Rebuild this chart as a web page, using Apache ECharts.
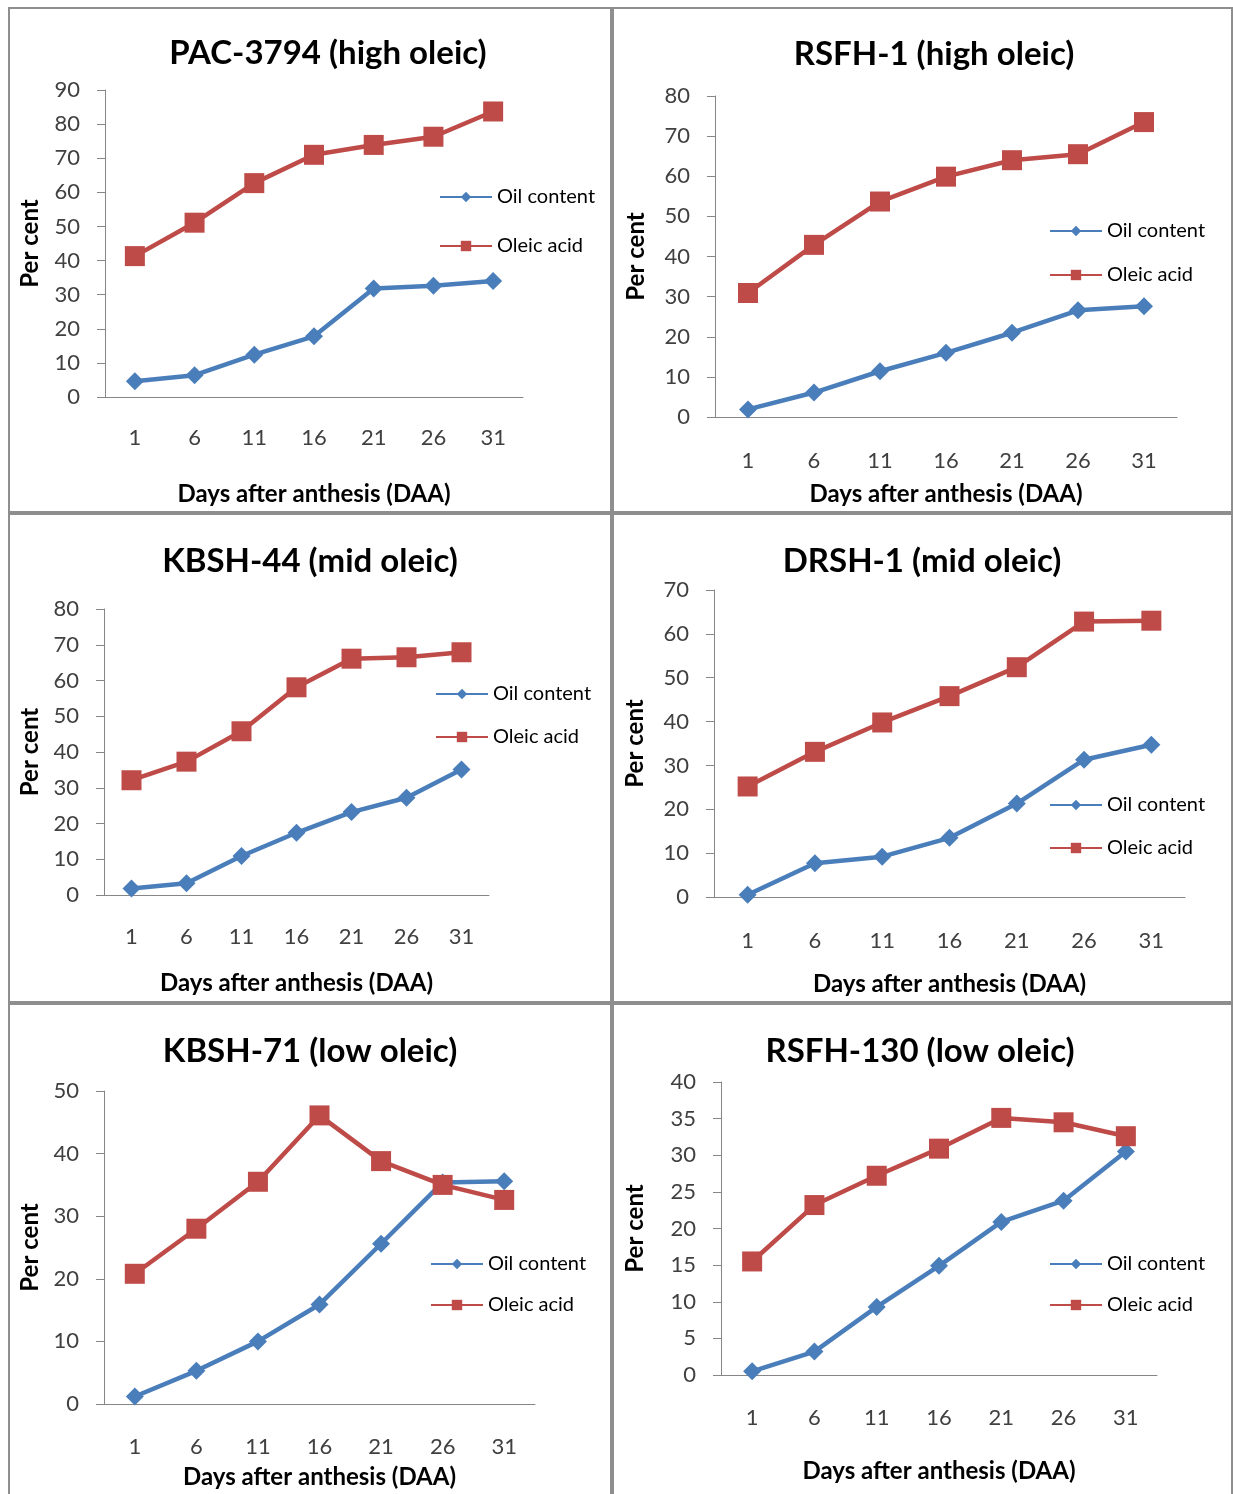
<!DOCTYPE html>
<html>
<head>
<meta charset="utf-8">
<title>Oil content and oleic acid</title>
<script src="https://cdn.jsdelivr.net/npm/echarts@6/dist/echarts.min.js"></script>
<style>
  body { margin: 0; background: #fff; }
  .panel { position: absolute; box-sizing: border-box; border: 2px solid #8e8e8e; overflow: hidden; background: #fff; }
  .chart { position: absolute; left: 0; top: 0; right: 0; bottom: 0; }
</style>
</head>
<body>
<div class="panel" style="left:8px;top:7px;width:604px;height:506px"><div id="c1" class="chart"></div></div>
<div class="panel" style="left:612px;top:7px;width:621px;height:506px"><div id="c2" class="chart"></div></div>
<div class="panel" style="left:8px;top:513px;width:604px;height:490px"><div id="c3" class="chart"></div></div>
<div class="panel" style="left:612px;top:513px;width:621px;height:490px"><div id="c4" class="chart"></div></div>
<div class="panel" style="left:8px;top:1003px;width:604px;height:493px"><div id="c5" class="chart"></div></div>
<div class="panel" style="left:612px;top:1003px;width:621px;height:493px"><div id="c6" class="chart"></div></div>

<script>
  // days after anthesis
  var days = ['1', '6', '11', '16', '21', '26', '31'];

  var pacOil = [4.6, 6.4, 12.4, 17.8, 31.8, 32.6, 34.0];
  var pacOleic = [41.3, 51.1, 62.7, 71.0, 73.9, 76.3, 83.7];

  var rsfh1Oil = [1.9, 6.1, 11.4, 16.0, 21.0, 26.6, 27.6];
  var rsfh1Oleic = [30.9, 42.9, 53.7, 59.9, 64.0, 65.5, 73.5];

  var kbsh44Oil = [1.8, 3.3, 10.9, 17.4, 23.2, 27.2, 35.1];
  var kbsh44Oleic = [32.1, 37.3, 45.8, 58.1, 66.1, 66.5, 67.9];

  var drsh1Oil = [0.5, 7.7, 9.2, 13.5, 21.3, 31.3, 34.7];
  var drsh1Oleic = [25.2, 33.1, 39.8, 45.8, 52.4, 62.8, 63.0];

  var kbsh71Oil = [1.2, 5.3, 10.0, 15.9, 25.6, 35.4, 35.6];
  var kbsh71Oleic = [20.8, 28.0, 35.5, 46.1, 38.8, 35.0, 32.6];

  var rsfh130Oil = [0.5, 3.2, 9.3, 14.9, 20.9, 23.8, 30.5];
  var rsfh130Oleic = [15.5, 23.2, 27.2, 30.9, 35.1, 34.5, 32.6];

  var FONT = 'Lato, "Open Sans", sans-serif';
  var BLUE = '#4a7ebb';
  var RED = '#be4b48';
  var AXIS = '#868686';

  var panels = [
    { id: 'c1', title: 'PAC-3794 (high oleic)', oil: pacOil, oleic: pacOleic, max: 90, step: 10,
      tx: 318, ty: 43, grid: [95, 81, 418, 311], lx: 429, ly: 188, lgap: 49, lab: 30, xgap: 85, ygap: 63 },
    { id: 'c2', title: 'RSFH-1 (high oleic)', oil: rsfh1Oil, oleic: rsfh1Oleic, max: 80, step: 10,
      tx: 320, ty: 44, grid: [101, 87, 462, 322], lx: 435, ly: 222, lgap: 44, lab: 33, xgap: 65, ygap: 67 },
    { id: 'c3', title: 'KBSH-44 (mid oleic)', oil: kbsh44Oil, oleic: kbsh44Oleic, max: 80, step: 10,
      tx: 300, ty: 45, grid: [94, 94, 385, 286], lx: 425, ly: 179, lgap: 43, lab: 31, xgap: 76, ygap: 62 },
    { id: 'c4', title: 'DRSH-1 (mid oleic)', oil: drsh1Oil, oleic: drsh1Oleic, max: 70, step: 10,
      tx: 308, ty: 45, grid: [100, 75, 471, 309], lx: 435, ly: 290, lgap: 43, lab: 33, xgap: 75, ygap: 67 },
    { id: 'c5', title: 'KBSH-71 (low oleic)', oil: kbsh71Oil, oleic: kbsh71Oleic, max: 50, step: 10,
      tx: 300, ty: 45, grid: [94, 86, 431, 314], lx: 420, ly: 259, lgap: 41, lab: 32, xgap: 61, ygap: 62 },
    { id: 'c6', title: 'RSFH-130 (low oleic)', oil: rsfh130Oil, oleic: rsfh130Oleic, max: 40, step: 5,
      tx: 306, ty: 45, grid: [107, 77, 436, 293], lx: 435, ly: 259, lgap: 41, lab: 32, xgap: 84, ygap: 74 }
  ];

  function makeOption(p) {
    return {
      animation: false,
      title: {
        text: p.title,
        left: p.tx,
        top: p.ty - 15,
        padding: 0,
        textAlign: 'center',
        textStyle: { fontFamily: FONT, fontSize: 33, fontWeight: 'bold', color: '#000' }
      },
      legend: {
        orient: 'vertical',
        left: p.lx,
        top: p.ly - 10,
        padding: 0,
        itemWidth: 52,
        itemHeight: 13,
        itemGap: p.lgap - 20,
        data: ['Oil content', 'Oleic acid'],
        lineStyle: { width: 2 },
        textStyle: { fontFamily: FONT, fontSize: 20, color: '#000' }
      },
      grid: { left: p.grid[0], top: p.grid[1], width: p.grid[2], height: p.grid[3] },
      xAxis: {
        type: 'category',
        data: days,
        axisLine: { lineStyle: { color: AXIS, width: 1 } },
        axisTick: { length: 8, lineStyle: { color: AXIS } },
        axisLabel: { margin: p.lab, fontFamily: FONT, fontSize: 22, color: '#404040' },
        name: 'Days after anthesis (DAA)',
        nameLocation: 'middle',
        nameGap: p.xgap,
        nameTextStyle: { fontFamily: FONT, fontSize: 24, fontWeight: 'bold', color: '#000' }
      },
      yAxis: {
        type: 'value',
        min: 0,
        max: p.max,
        interval: p.step,
        axisLine: { show: true, lineStyle: { color: AXIS, width: 1 } },
        axisTick: { show: true, length: 8, lineStyle: { color: AXIS } },
        splitLine: { show: false },
        axisLabel: { margin: 25, fontFamily: FONT, fontSize: 22, color: '#404040' },
        name: 'Per cent',
        nameLocation: 'middle',
        nameGap: p.ygap,
        nameTextStyle: { fontFamily: FONT, fontSize: 24, fontWeight: 'bold', color: '#000' }
      },
      series: [
        {
          name: 'Oil content',
          type: 'line',
          data: p.oil,
          symbol: 'diamond',
          symbolSize: 18,
          lineStyle: { width: 4.5, color: BLUE },
          itemStyle: { color: BLUE }
        },
        {
          name: 'Oleic acid',
          type: 'line',
          data: p.oleic,
          symbol: 'rect',
          symbolSize: 20,
          lineStyle: { width: 4.5, color: RED },
          itemStyle: { color: RED }
        }
      ]
    };
  }

  panels.forEach(function (p) {
    var chart = echarts.init(document.getElementById(p.id));
    chart.setOption(makeOption(p));
  });
</script>
</body>
</html>
